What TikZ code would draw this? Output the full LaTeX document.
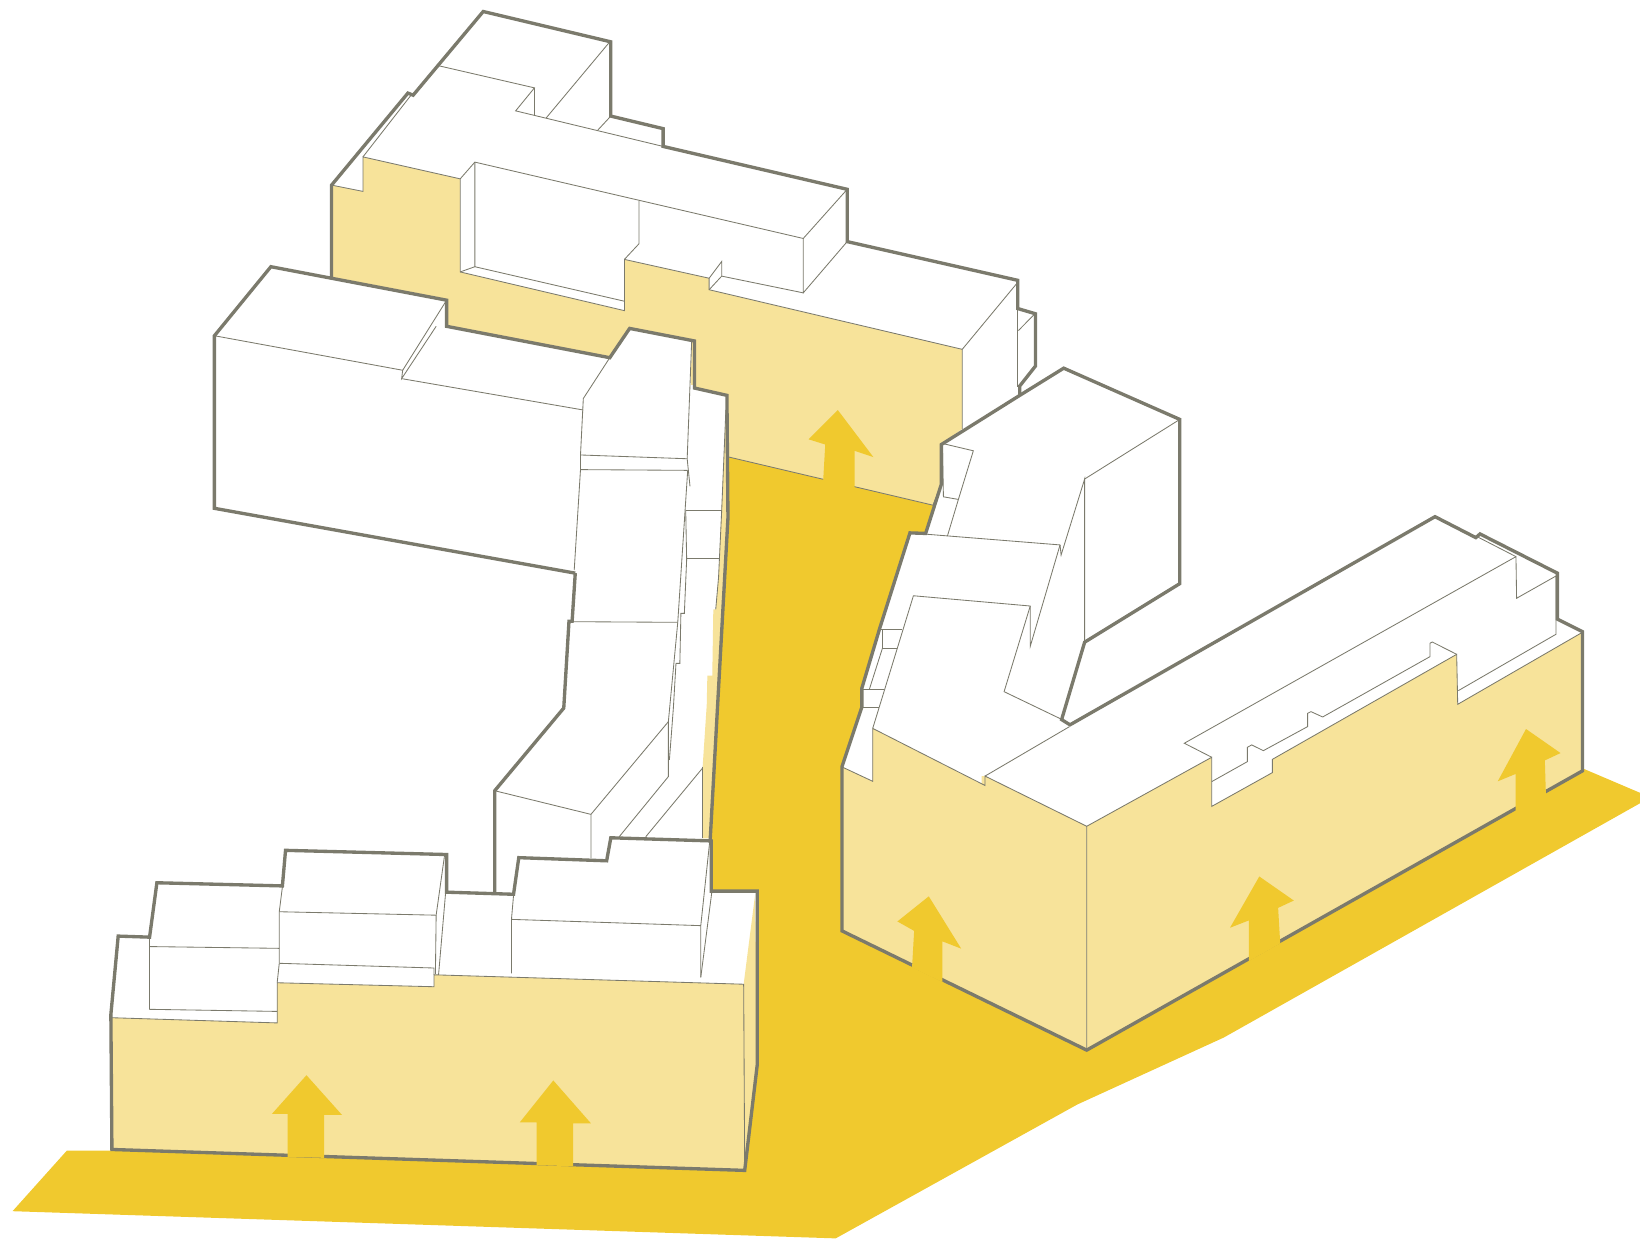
\documentclass[tikz,border=0pt]{standalone}
\usepackage{xcolor}
\definecolor{groundcol}{HTML}{F0C92E}
\definecolor{facadecol}{HTML}{F7E39A}
\definecolor{linecol}{HTML}{7B7A6C}
\tikzset{
  ground/.style  = {fill=groundcol},
  facade/.style  = {fill=facadecol},
  roof/.style    = {fill=white},
  outline/.style = {draw=linecol, line width=0.95pt, line join=miter},
  edge/.style    = {draw=linecol, line width=0.24pt, line join=miter},
  flow/.style    = {fill=groundcol},
}
\begin{document}
\begin{tikzpicture}[x=0.010459cm, y=-0.010459cm]
\useasboundingbox (0,0) rectangle (1568,1186);

\fill[ground] (64,1100) -- (12,1158) -- (799,1184) -- (1030,1056) -- (1170,992) -- (1568,768) -- (1568,758) -- (1514,735) -- (900,700) -- (892,483) -- (697,437) -- (640,600) -- (640,1100) -- cycle;

% rear block
\fill[facade] (317,177) -- (347,183) -- (347,150) -- (440,171) -- (440,260) -- (597,297) -- (597,248) -- (678,266) -- (678,277) -- (920,334) -- (920,410) -- (900,425) -- (900,463) -- (892,483) -- (697,437) -- (650,500) -- (317,400) -- cycle;
\fill[roof] (317,177) -- (390,89) -- (395,91) -- (462,11) -- (584,40) -- (584,111) -- (634,123) -- (634,140) -- (810,181) -- (810,231) -- (973,268) -- (973,295) -- (990,300) -- (990,350) -- (975,369) -- (975,378) -- (920,410) -- (920,334) -- (678,277) -- (678,266) -- (597,248) -- (597,297) -- (440,260) -- (440,171) -- (347,150) -- (347,183) -- cycle;
\draw[edge] (697,437) -- (892,483) -- (900,463);
\draw[edge] (317,177) -- (347,183) -- (347,150) -- (440,171) -- (440,260) -- (597,297) -- (597,248) -- (678,266) -- (678,277) -- (920,334) -- (920,410);
\draw[edge] (347,150) -- (393,91);
\draw[edge] (420,63) -- (511,84) -- (493,106) -- (634,140);
\draw[edge] (511,84) -- (511,110);
\draw[edge] (583,40) -- (522,113);
\draw[edge] (584,111) -- (571,125);
\draw[edge] (440,171) -- (454,155) -- (768,228) -- (810,181);
\draw[edge] (454,155) -- (454,255) -- (597,288);
\draw[edge] (440,260) -- (454,255);
\draw[edge] (611,192) -- (611,233) -- (597,248);
\draw[edge] (768,228) -- (768,280) -- (810,231);
\draw[edge] (678,266) -- (690,250) -- (690,264) -- (768,280);
\draw[edge] (678,277) -- (690,264);
\draw[edge] (920,334) -- (973,270);
\draw[edge] (973,295) -- (973,370);
\draw[edge] (973.7,316) -- (989.5,300);
\draw[outline] (317,265) -- (317,177) -- (390,89) -- (395,91) -- (462,11) -- (584,40) -- (584,111) -- (634,123) -- (634,140) -- (810,181) -- (810,231) -- (973,268) -- (973,295) -- (990,300) -- (990,350) -- (975,369) -- (975,378);

% long block and column
\fill[roof] (205,321) -- (259,255) -- (427,287) -- (427,312) -- (583,342) -- (602,314) -- (664,326) -- (664,371) -- (695,378) -- (696,495) -- (678,803) -- (473,855) -- (473,756) -- (539,677) -- (544,594) -- (547,594) -- (550,548) -- (205,486) -- cycle;
\fill[facade] (694,392) -- (687,552) -- (684.3,582.6) -- (682,582.6) -- (681,646) -- (676.3,646) -- (675.7,674) -- (671.8,733) -- (671.8,801.5) -- (679,801.5) -- (695,495) -- cycle;
\fill[facade] (661.3,326) -- (664,326) -- (664,368) -- (660.5,368) -- cycle;
\draw[edge] (205,321) -- (385,354) -- (427,287);
\draw[edge] (385,354) -- (384,362) -- (417,312);
\draw[edge] (384,362) -- (557.7,392);
\draw[edge] (583,342) -- (557.7,381) -- (555,435) -- (555,449) -- (549,545);
\draw[edge] (555,435) -- (657,438.6);
\draw[edge] (555,449) -- (657.5,449.7);
\draw[edge] (661.3,326) -- (657,438.6) -- (659.7,465);
\draw[edge] (657.5,449.7) -- (648,595) -- (639,690) -- (639,742.5) -- (592,800);
\draw[edge] (549,594.4) -- (648,595);
\draw[edge] (639,690) -- (565,778.6) -- (565,820.6);
\draw[edge] (473,756) -- (565,778.6);
\draw[edge] (671.5,734.6) -- (617.4,800);
\draw[edge] (655.6,488) -- (656.5,535) -- (654.3,586.4) -- (651,586.4) -- (650,634.2) -- (646.3,634.2) -- (643.8,677) -- (640,726.6);
\draw[edge] (655.6,488) -- (690,488);
\draw[edge] (656.5,534) -- (688.4,534);
\draw[edge] (694,392) -- (690,488) -- (687,552) -- (684.3,582.6);
\draw[edge] (671.8,733) -- (671.8,801.5);
\draw[outline] (550,548) -- (205,486) -- (205,321) -- (259,255) -- (427,287) -- (427,312) -- (583,342) -- (602,314) -- (664,326) -- (664,371) -- (695,378) -- (696,495) -- (679,803);
\draw[outline] (550,548) -- (547,594) -- (544,594) -- (539,677) -- (473,756) -- (473,855);

% front block
\fill[roof] (106,970) -- (113,895) -- (143,896) -- (150,844) -- (270,847) -- (273,813) -- (427,817) -- (427,853) -- (491,855) -- (496,820) -- (580,823) -- (584,801) -- (680,804) -- (680,852) -- (724,852) -- (724,1018) -- (712,1119) -- (107,1099) -- cycle;
\fill[facade] (106,973) -- (265,978) -- (265,939.6) -- (415,943.4) -- (415,932) -- (711,941) -- (722,855) -- (724,1018) -- (712,1119) -- (107,1099) -- cycle;
\draw[edge] (106,973) -- (265,978) -- (265,939.6) -- (415,943.4) -- (415,932) -- (711,941) -- (712,1119);
\draw[edge] (143,896) -- (143,965) -- (265,967);
\draw[edge] (143,905) -- (267,906.7);
\draw[edge] (270,848) -- (267,871.7) -- (267,921) -- (265,939.6);
\draw[edge] (267,871.7) -- (417,875);
\draw[edge] (267,921) -- (415,925.5) -- (415,932);
\draw[edge] (425,818) -- (417,875) -- (416.3,931);
\draw[edge] (426,854) -- (419.3,932);
\draw[edge] (491,856) -- (489,879) -- (489,930.6);
\draw[edge] (489,879) -- (670,885);
\draw[edge] (678.5,805) -- (670,885) -- (670,934.5);
\draw[edge] (680.6,852.6) -- (670,934.5);
\draw[outline] (106,970) -- (113,895) -- (143,896) -- (150,844) -- (270,847) -- (273,813) -- (427,817) -- (427,853) -- (491,855) -- (496,820) -- (580,823) -- (584,801) -- (680,804) -- (680,852) -- (724,852) -- (724,1018) -- (712,1119) -- (107,1099) -- cycle;

% right block
\fill[roof] (805,890) -- (805,733) -- (824,676) -- (824,658) -- (841,601) -- (870,509.5) -- (885,510) -- (900,463) -- (900,425) -- (975,378) -- (1017,352) -- (1128,401) -- (1128,558) -- (1037,614) -- (1015,688) -- (1023,693) -- (1372,494) -- (1411,514) -- (1415,510.5) -- (1489,548) -- (1489,592) -- (1513,604) -- (1513,737) -- (1039,1004) -- cycle;
\fill[facade] (806,733.7) -- (834.4,747) -- (834.4,696.4) -- (938.6,749.6) -- (938.6,742) -- (941.8,742) -- (941.8,751) -- (941.8,742) -- (1039,790) -- (1039,1004) -- (805,890) -- cycle;
\fill[facade] (1039,790) -- (1158.5,724) -- (1158.5,771) -- (1216.5,738.7) -- (1216.5,726) -- (1392.7,625.6) -- (1393.7,673.4) -- (1513,604.5) -- (1513,737) -- (1039,1004) -- cycle;
\draw[edge] (806,733.7) -- (834.4,747) -- (834.4,696.4) -- (941.8,751) -- (941.8,742) -- (1039,790) -- (1039,1004);
\draw[edge] (1039,790) -- (1158.5,724) -- (1158.5,771) -- (1216.5,738.7) -- (1216.5,726) -- (1392.7,625.6) -- (1393.7,673.4) -- (1513,604.5);
\draw[edge] (941.8,742) -- (1022.4,694.8);
\draw[edge] (901,424) -- (930.6,431) -- (916.3,477.5) -- (902,475) -- (901,424);
\draw[edge] (916.3,477.5) -- (905.8,512.5);
\draw[edge] (870,509.5) -- (1013.5,521) -- (1014.5,530.7) -- (1037,458) -- (1037,613.5);
\draw[edge] (1037,458) -- (1128,401);
\draw[edge] (1013.5,521) -- (985,618) -- (985,579.4) -- (873.3,569.6) -- (834.4,696.4);
\draw[edge] (985,579.4) -- (960,661.3) -- (1014.5,687.5);
\draw[edge] (841,601.7) -- (862.8,601.7);
\draw[edge] (843.6,602) -- (843.6,620) -- (857.3,620);
\draw[edge] (843.6,620) -- (831.2,659);
\draw[edge] (823,659) -- (845.5,659);
\draw[edge] (823,676.3) -- (840.8,676.3);
\draw[edge] (1158.5,724) -- (1132.3,710.6) -- (1449.4,532.2) -- (1450,572) -- (1487.7,550.7) -- (1487.7,606.4) -- (1394.3,660.3);
\draw[edge] (1413.4,513.7) -- (1449.4,532.2);
\draw[edge] (1158.5,747.3) -- (1192.6,728.2) -- (1192.6,714.5) -- (1196.7,712.2) -- (1207.9,717.7) -- (1250.2,694.7) -- (1250.2,682) -- (1253.4,680.4) -- (1264.6,685.5) -- (1367.2,627.8) -- (1367.2,615) -- (1369.4,613.8) -- (1392.7,625.6);
\draw[outline] (805,890) -- (805,733) -- (824,676) -- (824,658) -- (841,601) -- (870,509.5) -- (885,510) -- (900,463) -- (900,425) -- (975,378) -- (1017,352) -- (1128,401) -- (1128,558) -- (1037,614) -- (1015,688) -- (1023,693) -- (1372,494) -- (1411,514) -- (1415,510.5) -- (1489,548) -- (1489,592) -- (1513,604) -- (1513,737) -- (1039,1004) -- cycle;

% arrows
\fill[flow] (293,1028) -- (327,1066) -- (310,1066) -- (310,1107) -- (275,1106) -- (275,1065) -- (260,1065) -- cycle;
\fill[flow] (529,1033) -- (565,1074) -- (548,1074) -- (548,1115) -- (513,1114) -- (513,1073) -- (497,1073) -- cycle;
\fill[flow] (801,392) -- (835,437) -- (817,431) -- (817,467) -- (787,460) -- (789,425) -- (773,420) -- cycle;
\fill[flow] (888,857) -- (919,907) -- (901,900) -- (901,939) -- (872,925) -- (874,890) -- (858,881) -- cycle;
\fill[flow] (1204,838) -- (1237,861) -- (1222,868) -- (1224,902) -- (1194,919) -- (1194,880) -- (1176,887) -- cycle;
\fill[flow] (1459,697) -- (1492,720) -- (1477,727) -- (1478,760) -- (1449,777) -- (1449,740) -- (1432,747) -- cycle;
\end{tikzpicture}
\end{document}
